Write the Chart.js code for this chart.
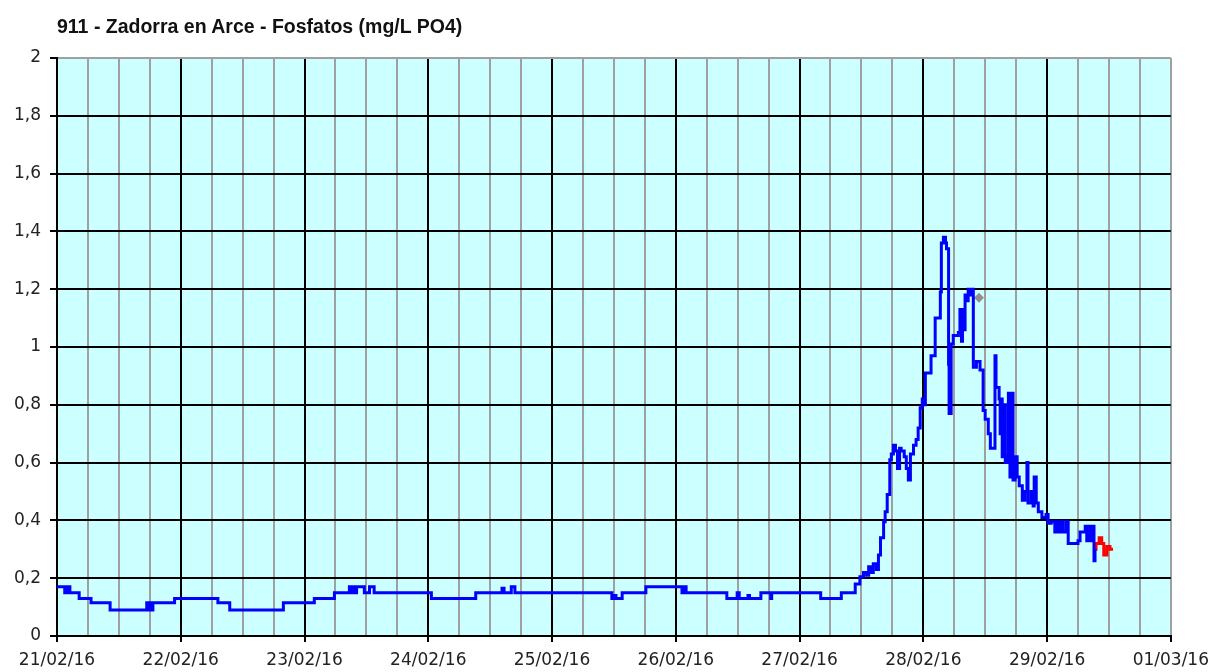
<!DOCTYPE html>
<html lang="es">

<head>
    <meta charset="UTF-8">
    <title>911 - Zadorra en Arce - Fosfatos</title>
    <style>
        body {
            margin: 0;
            background: #fff;
        }

        #wrap {
            position: relative;
            width: 1217px;
            height: 672px;
        }

        #title {
            position: absolute;
            left: 57px;
            top: 17px;
            font-family: "Liberation Sans", Arial, sans-serif;
            font-weight: bold;
            font-size: 19.5px;
            line-height: 19px;
            color: #111;
            white-space: nowrap;
        }
    </style>
</head>

<body>
    <div id="wrap">
        <canvas id="chart" width="1217" height="672"></canvas>
        <div id="title">911 - Zadorra en Arce - Fosfatos (mg/L PO4)</div>
    </div>

    <script src="https://cdn.jsdelivr.net/npm/chart.js"></script>
    <script>
        // day labels on the x axis (one every 24 h)
        const dayLabels = ['21/02/16', '22/02/16', '23/02/16', '24/02/16', '25/02/16',
            '26/02/16', '27/02/16', '28/02/16', '29/02/16', '01/03/16'];

        // hours since 21/02/16 00:00 and phosphate values (mg/L PO4)
        const blueHours = [
            0, 1.5, 2.0, 2.5, 4.3, 6.6, 10.3, 17.4, 17.7, 18.0, 18.4, 18.6, 22.8,
            31.2, 33.5, 43.9, 49.9, 53.8, 56.7, 57.0, 57.4, 57.7, 58.1, 59.6, 60.6, 61.5,
            72.6, 81.2, 86.3, 86.7, 88.1, 88.8,
            107.6, 108.0, 108.4, 109.6, 114.2, 121.2, 121.6, 122.0,
            129.9, 131.9, 132.3, 134.0, 134.3, 136.5, 138.4, 138.6,
            148.1, 152.1, 154.8, 155.7, 156.4, 157.0, 157.4, 157.9, 158.3, 158.9, 159.3,
            159.7, 160.3, 160.6, 161.0, 161.5, 161.8, 162.2, 162.6, 163.0, 163.4, 163.7,
            164.3, 164.7, 165.1, 165.5, 166.1, 166.6, 167.0, 167.4, 167.8, 168.2, 168.4,
            169.5, 170.3, 171.3, 171.5, 171.9, 172.3, 172.5, 172.9, 173.0, 173.4, 173.8,
            174.8, 175.1, 175.4, 175.6, 175.9, 176.1, 176.5, 176.7, 177.1, 177.5, 177.7,
            178.3, 179.0, 179.6, 180.0, 180.6, 181.0, 181.9, 182.1, 182.7, 182.9, 183.1,
            183.3, 183.7, 183.9, 184.3, 184.5, 184.8, 185.0, 185.4, 185.8, 186.2, 186.6,
            187.2, 187.7, 188.1, 188.3, 188.9, 189.3, 189.5, 189.9, 190.3, 191.0, 191.8,
            192.2, 192.8, 193.5, 193.9, 194.3, 194.7, 195.1, 195.7, 196.1, 198.0, 198.4,
            199.4, 199.7, 200.1, 200.5, 200.9, 201.1, 201.3
        ];
        const blueValues = [
            0.17, 0.15, 0.17, 0.15, 0.13, 0.115, 0.09, 0.115, 0.09, 0.115, 0.09, 0.115, 0.13,
            0.115, 0.09, 0.115, 0.13, 0.15, 0.17, 0.15, 0.17, 0.15, 0.17, 0.15, 0.17, 0.15,
            0.13, 0.15, 0.165, 0.15, 0.17, 0.15,
            0.13, 0.14, 0.13, 0.15, 0.17, 0.15, 0.17, 0.15,
            0.13, 0.15, 0.13, 0.14, 0.13, 0.15, 0.13, 0.15,
            0.13, 0.15, 0.18, 0.205, 0.22, 0.21, 0.24, 0.22, 0.25, 0.23, 0.28,
            0.34, 0.395, 0.43, 0.49, 0.61, 0.63, 0.66, 0.64, 0.58, 0.65, 0.64,
            0.62, 0.58, 0.54, 0.63, 0.66, 0.68, 0.72, 0.79, 0.82, 0.80, 0.91,
            0.97, 1.10, 1.19, 1.36, 1.38, 1.36, 1.34, 0.94, 0.77, 1.01, 1.04,
            1.05, 1.13, 1.02, 1.13, 1.06, 1.18, 1.16, 1.20, 1.18, 1.20, 0.93,
            0.95, 0.92, 0.78, 0.75, 0.70, 0.65, 0.97, 0.86, 0.82, 0.70, 0.82,
            0.62, 0.80, 0.60, 0.62, 0.84, 0.55, 0.84, 0.54, 0.62, 0.55, 0.52,
            0.47, 0.50, 0.60, 0.46, 0.50, 0.45, 0.55, 0.46, 0.43, 0.41, 0.42,
            0.39, 0.395, 0.36, 0.395, 0.36, 0.395, 0.36, 0.395, 0.32, 0.33, 0.36,
            0.38, 0.33, 0.38, 0.33, 0.38, 0.26, 0.30
        ];

        // last (provisional) readings drawn in red
        const redHours = [201.3, 201.5, 202.1, 202.6, 203.0, 203.6, 204.2, 204.8];
        const redValues = [0.30, 0.32, 0.34, 0.32, 0.28, 0.31, 0.30, 0.30];

        // single grey reading
        const grayHours = [178.8];
        const grayValues = [1.17];

        const toPoints = (xs, ys) => xs.map((x, i) => ({ x: x, y: ys[i] }));

        // light cyan plot background
        const plotBackground = {
            id: 'plotBackground',
            beforeDraw(chart) {
                const { ctx, chartArea: a } = chart;
                ctx.save();
                ctx.fillStyle = '#ccffff';
                ctx.fillRect(a.left, a.top, a.right - a.left, a.bottom - a.top);
                ctx.restore();
            }
        };

        const ctx = document.getElementById('chart').getContext('2d');
        new Chart(ctx, {
            type: 'line',
            data: {
                datasets: [{
                    data: toPoints(blueHours, blueValues),
                    borderColor: '#0000ff',
                    borderWidth: 3,
                    stepped: true,
                    pointRadius: 0
                }, {
                    data: toPoints(redHours, redValues),
                    borderColor: '#ff0000',
                    borderWidth: 3,
                    stepped: true,
                    pointRadius: 0
                }, {
                    data: toPoints(grayHours, grayValues),
                    showLine: false,
                    pointStyle: 'rectRot',
                    pointRadius: 5,
                    backgroundColor: '#909090',
                    borderColor: '#909090',
                    borderWidth: 0
                }]
            },
            options: {
                responsive: false,
                animation: false,
                layout: {
                    padding: { top: 58, right: 44, bottom: 0, left: 0 }
                },
                plugins: {
                    legend: { display: false },
                    tooltip: { enabled: false }
                },
                scales: {
                    x: {
                        type: 'linear',
                        min: 0,
                        max: 216,
                        afterFit(scale) { scale.height = 36; },
                        border: { color: '#000', width: 2 },
                        grid: {
                            lineWidth: 2,
                            tickLength: 6,
                            color: (c) => (c.tick.value % 24 === 0 && c.tick.value < 216) ? '#000' : '#a0a0a0',
                            tickColor: (c) => c.tick.value % 24 === 0 ? '#000' : 'rgba(0,0,0,0)'
                        },
                        ticks: {
                            stepSize: 6,
                            autoSkip: false,
                            maxRotation: 0,
                            padding: 8,
                            color: '#222',
                            font: { family: 'DejaVu Sans', size: 17 },
                            callback: (v) => v % 24 === 0 ? dayLabels[v / 24] : ''
                        }
                    },
                    y: {
                        min: 0,
                        max: 2,
                        afterFit(scale) { scale.width = 57; },
                        border: { color: '#000', width: 2 },
                        grid: {
                            lineWidth: 2,
                            tickLength: 7,
                            color: (c) => c.tick.value >= 1.99 ? '#a0a0a0' : '#000',
                            tickColor: '#000'
                        },
                        ticks: {
                            stepSize: 0.2,
                            padding: 9,
                            color: '#222',
                            font: { family: 'DejaVu Sans', size: 17 },
                            callback: (v) => String(Math.round(v * 10) / 10).replace('.', ',')
                        }
                    }
                }
            },
            plugins: [plotBackground]
        });
    </script>
</body>

</html>
